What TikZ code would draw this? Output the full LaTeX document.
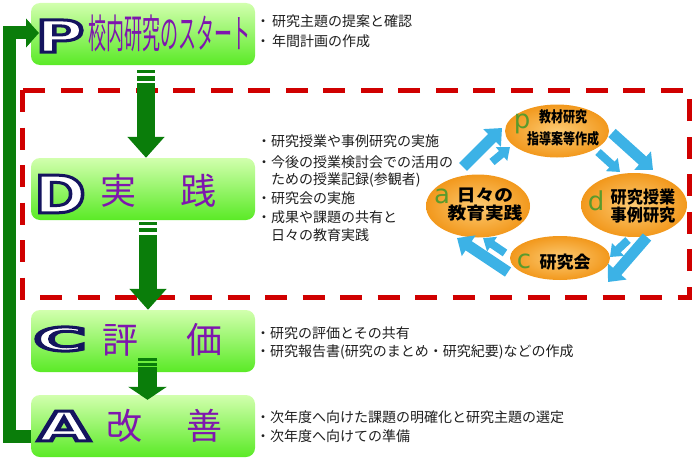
\documentclass[tikz,border=0pt]{standalone}
\usepackage{fontspec}
\setmainfont{DejaVu Sans}
\newfontfamily\jp{Noto Sans CJK JP}
\usetikzlibrary{arrows.meta,shapes.geometric}
\definecolor{darkg}{HTML}{0A7D0A}
\definecolor{boxtop}{HTML}{D2FFAE}
\definecolor{boxbot}{HTML}{5AEA26}
\definecolor{purp}{HTML}{7E16AE}
\definecolor{navy}{HTML}{14145F}
\definecolor{redd}{HTML}{D00000}
\definecolor{sky}{HTML}{3CB2E6}
\definecolor{skyl}{HTML}{8FD6F5}
\definecolor{oin}{HTML}{FCCB74}
\definecolor{oout}{HTML}{F2981C}
\definecolor{lg}{HTML}{5A9A2C}
\definecolor{txt}{HTML}{1E1E1E}
\newcommand\outl[1]{\special{pdf:literal direct 0.08 0.08 0.37 RG 2 Tr 3 w}#1\special{pdf:literal direct 0 Tr}}
\tikzset{
 phase/.style={draw=none, rounded corners=9pt, top color=boxtop, bottom color=boxbot, minimum width=224pt, minimum height=62pt, inner sep=0pt},
 bigletter/.style={inner sep=0pt, text=white},
 kanji/.style={inner sep=0pt, text=purp, font=\jp\fontsize{36}{36}\selectfont},
 listitem/.style={inner sep=0pt, anchor=west, text=txt, font=\jp\fontsize{14}{14}\selectfont},
 garrow/.style={darkg, line width=18pt, -{Triangle[width=36pt,length=21pt]}},
 stripe/.style={fill=darkg, draw=none},
 fb/.style={darkg, line width=13pt, -{Triangle[width=28pt,length=13pt]}},
 cyc/.style={ellipse, inner sep=0pt, draw=none, shading=radial, inner color=oin, outer color=oout},
 cyctext/.style={inner sep=0pt, align=center, text=black, font=\jp\bfseries\fontsize{17}{18}\selectfont},
 lett/.style={inner sep=0pt, anchor=base, text=lg, font=\fontsize{26}{26}\selectfont},
 barrow/.style={sky, line width=11pt, -{Triangle[width=24pt,length=14pt]}},
 sarrow/.style={sky, line width=8pt, -{Triangle[width=17pt,length=11pt]}},
}
\begin{document}
\begin{tikzpicture}[x=1pt,y=-1pt]
\useasboundingbox (0,0) rectangle (700,460);
% red dashed frame
\draw[redd, line width=5pt, dash pattern=on 22pt off 15.5pt] (22,90) rectangle (689,297);
% feedback line
\coordinate (fbA) at (40,436);
\coordinate (fbP) at (39,33);
\draw[fb] (fbA) -- (9,436) |- (fbP);
% phase boxes
\node[phase] (P) at (143,34) {};
\node[phase] (D) at (143,189) {};
\node[phase] (C) at (143,341) {};
\node[phase] (A) at (143,426) {};
\draw[darkg, line width=13pt, -{Triangle[width=28pt,length=13pt]}] (20,33) -- (fbP);
% letters
\node[bigletter, font=\fontsize{44}{44}\selectfont\bfseries] (Pl) at (60,36) {\scalebox{1.5}[1]{\outl{P}}};
\node[bigletter, font=\fontsize{52}{52}\selectfont\bfseries] (Dl) at (60,194) {\scalebox{1.2}[1]{\outl{D}}};
\node[bigletter, font=\fontsize{32}{32}\selectfont\bfseries] (Cl) at (60,339) {\scalebox{2.2}[1]{\outl{C}}};
\node[bigletter, font=\fontsize{41}{41}\selectfont\bfseries] (Al) at (64,426) {\scalebox{1.65}[1]{\outl{A}}};
% titles
\node[inner sep=0pt, text=purp, font=\jp\fontsize{40}{40}\selectfont] (Pt) at (169,33) {\scalebox{0.45}[1]{校内研究のスタート}};
\node[kanji] (D1) at (118,191) {実};
\node[kanji] (D2) at (198,191) {践};
\node[kanji] (C1) at (120,340) {評};
\node[kanji] (C2) at (204,340) {価};
\node[kanji] (A1) at (124,426) {改};
\node[kanji] (A2) at (204,426) {善};
% green arrows
\fill[stripe] (137,70) rectangle (155,73);
\fill[stripe] (137,76) rectangle (155,81);
\coordinate (g1s) at (146,83);
\draw[garrow] (g1s) -- (g1s |- D.north);
\fill[stripe] (139,222) rectangle (157,225);
\fill[stripe] (139,228) rectangle (157,232);
\coordinate (g2s) at (148,235);
\draw[garrow] (g2s) -- (g2s |- C.north);
\fill[stripe] (138,358) rectangle (157,361);
\fill[stripe] (138,362.5) rectangle (157,365.5);
\coordinate (g3s) at (147.5,367);
\draw[darkg, line width=19pt, -{Triangle[width=38pt,length=13pt]}] (g3s) -- ([yshift=-5pt]A.north -| g3s);
% lists
\node[listitem] (p1) at (256,21) {・\hspace{2pt}研究主題の提案と確認};
\node[listitem] (p2) at (256,41) {・\hspace{2pt}年間計画の作成};
\node[listitem] (d1) at (257,141) {・研究授業や事例研究の実施};
\node[listitem] (d2) at (257,162) {・今後の授業検討会での活用の};
\node[listitem] (d3) at (271,180) {ための授業記録(参観者)};
\node[listitem] (d4) at (257,198) {・研究会の実施};
\node[listitem] (d5) at (257,217) {・成果や課題の共有と};
\node[listitem] (d6) at (271,235) {日々の教育実践};
\node[listitem] (c1) at (256,333) {・研究の評価とその共有};
\node[listitem] (c2) at (256,352) {・研究報告書(研究のまとめ・研究紀要)などの作成};
\node[listitem] (a1) at (256,417) {・次年度へ向けた課題の明確化と研究主題の選定};
\node[listitem] (a2) at (256,436) {・次年度へ向けての準備};
% cycle
\node[cyc, minimum width=104pt, minimum height=53pt] (cp) at (557,131) {};
\node[cyc, minimum width=104pt, minimum height=63pt] (ca) at (478,206) {};
\node[cyc, minimum width=106pt, minimum height=64pt] (cd) at (634,205) {};
\node[cyc, minimum width=100pt, minimum height=44pt] (cc) at (560,258) {};
\node[lett] (lp) at (522,128) {p};
\node[lett] (la) at (442,203) {a};
\node[lett] (ld) at (596,210) {d};
\node[lett] (lc) at (524,268) {c};
\node[cyctext, font=\jp\bfseries\fontsize{15}{22}\selectfont] (tp) at (563,128) {\scalebox{0.8}[1]{教材研究}\\\scalebox{0.8}[1]{指導案等作成}};
\node[cyctext] (ta) at (485,205) {\scalebox{1.1}[1]{日々の}\\\scalebox{1.1}[1]{教育実践}};
\node[cyctext] (td) at (643,206) {\scalebox{0.95}[1]{研究授業}\\\scalebox{0.95}[1]{事例研究}};
\node[cyctext] (tc) at (565,262) {研究会};
% blue arrows
\coordinate (ap1) at (463,167); \coordinate (ap2) at (502,128);
\coordinate (ap3) at (492,162); \coordinate (ap4) at (510,147);
\coordinate (pd1) at (612,133); \coordinate (pd2) at (653,170);
\coordinate (pd3) at (598,152); \coordinate (pd4) at (620,172);
\coordinate (dc1) at (647,237); \coordinate (dc2) at (608,282);
\coordinate (dc3) at (628,240); \coordinate (dc4) at (610,257);
\coordinate (ca1) at (508,272); \coordinate (ca2) at (457,238);
\coordinate (ca3) at (505,253); \coordinate (ca4) at (483,238);
\draw[barrow] (ap1) -- (ap2);
\draw[sarrow] (ap3) -- (ap4);
\draw[barrow] (pd1) -- (pd2);
\draw[sarrow] (pd3) -- (pd4);
\draw[barrow] (dc1) -- (dc2);
\draw[sarrow] (dc3) -- (dc4);
\draw[barrow] (ca1) -- (ca2);
\draw[sarrow] (ca3) -- (ca4);
\end{tikzpicture}
\end{document}
